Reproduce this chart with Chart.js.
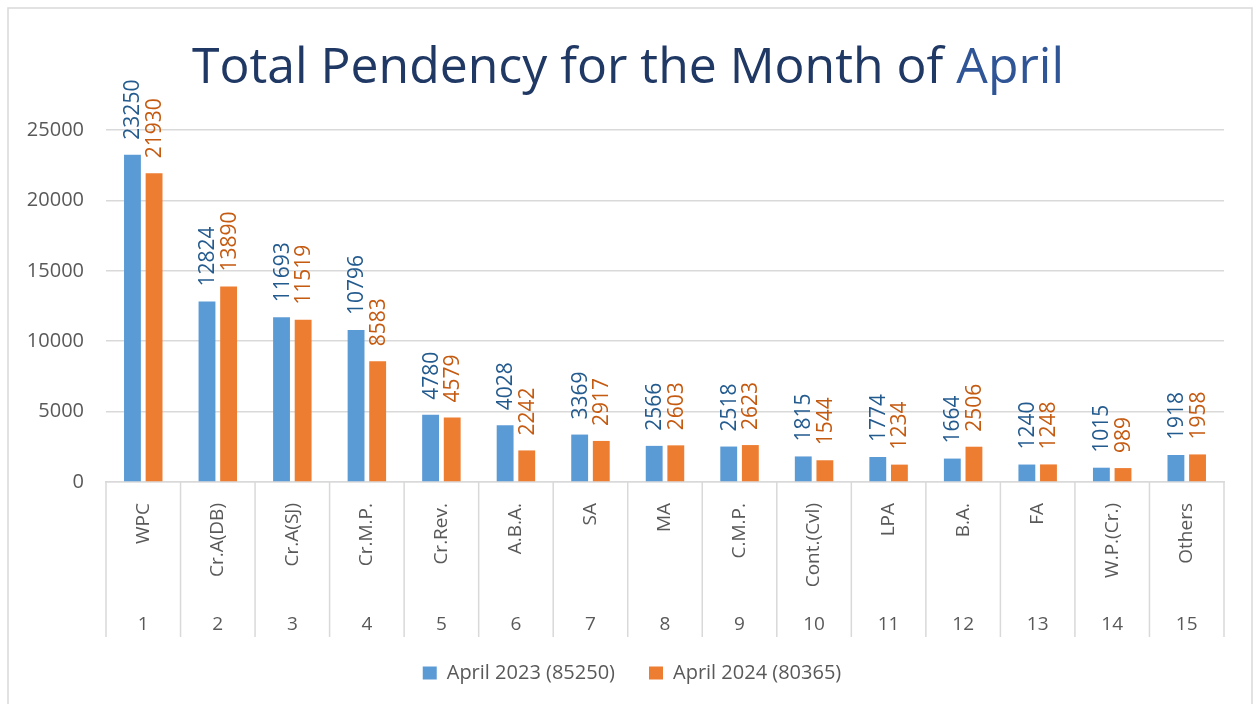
<!DOCTYPE html>
<html><head><meta charset="utf-8">
<script src="https://cdn.jsdelivr.net/npm/chart.js@4.4.1/dist/chart.umd.min.js"></script>
<style>html,body{margin:0;padding:0;background:#fff;} canvas{display:block;}</style>
</head><body>
<canvas id="c" width="1260" height="704"></canvas>
<script>
const categories = ['WPC','Cr.A(DB)','Cr.A(SJ)','Cr.M.P.','Cr.Rev.','A.B.A.','SA','MA','C.M.P.','Cont.(Cvl)','LPA','B.A.','FA','W.P.(Cr.)','Others'];
const serialNumbers = ['1','2','3','4','5','6','7','8','9','10','11','12','13','14','15'];
const april2023 = [23250,12824,11693,10796,4780,4028,3369,2566,2518,1815,1774,1664,1240,1015,1918];
const april2024 = [21930,13890,11519,8583,4579,2242,2917,2603,2623,1544,1234,2506,1248,989,1958];
const seriesNames = ['April 2023 (85250)','April 2024 (80365)'];
const yMin = 0, yMax = 25000, yStep = 5000;
const titleMain = 'Total Pendency for the Month of ';
const titleAccent = 'April';

const FONT = '"Open Sans", "DejaVu Sans", sans-serif';
const barColors = ['#5B9BD5','#ED7D31'];
const labelColors = ['#245B8F','#C55A11'];

const framePlugin = {
  id: 'frame',
  beforeDraw(chart) {
    const ctx = chart.ctx;
    ctx.save();
    ctx.fillStyle = '#fff';
    ctx.fillRect(0, 0, chart.width, chart.height);
    ctx.strokeStyle = '#d9d9d9';
    ctx.lineWidth = 1.5;
    ctx.strokeRect(8, 8, chart.width - 16, chart.height + 20);
    ctx.restore();
  }
};

const legendShiftPlugin = {
  id: 'legendShift',
  afterLayout(chart) {
    const lg = chart.legend;
    if (lg) { lg.left += 20; lg.right += 20; lg.top -= 8; lg.bottom -= 8; }
  }
};

const titlePlugin = {
  id: 'twoToneTitle',
  afterDraw(chart) {
    const ctx = chart.ctx;
    ctx.save();
    ctx.font = '50px ' + FONT;
    ctx.textBaseline = 'alphabetic';
    ctx.textAlign = 'left';
    const w1 = ctx.measureText(titleMain).width;
    const w2 = ctx.measureText(titleAccent).width;
    const target = 872;
    const s = Math.min(1, target / (w1 + w2));
    const total = (w1 + w2) * s;
    const cx = 628;
    ctx.translate(cx - total / 2, 83);
    ctx.scale(s, 1);
    ctx.fillStyle = '#203864';
    ctx.fillText(titleMain, 0, 0);
    ctx.fillStyle = '#2F5597';
    ctx.fillText(titleAccent, w1, 0);
    ctx.restore();
  }
};

const separatorPlugin = {
  id: 'separators',
  afterDraw(chart) {
    const x = chart.scales.x, x2 = chart.scales.x2;
    const ctx = chart.ctx;
    const n = categories.length;
    const half = (x.getPixelForValue(1) - x.getPixelForValue(0)) / 2;
    ctx.save();
    ctx.strokeStyle = '#d9d9d9';
    ctx.lineWidth = 1.5;
    ctx.beginPath();
    for (let i = 0; i <= n; i++) {
      const px = i < n ? x.getPixelForValue(i) - half : x.getPixelForValue(n - 1) + half;
      ctx.moveTo(px, x.top);
      ctx.lineTo(px, x2.bottom);
    }
    ctx.stroke();
    ctx.restore();
  }
};

const valueLabelPlugin = {
  id: 'valueLabels',
  afterDatasetsDraw(chart) {
    const ctx = chart.ctx;
    ctx.save();
    ctx.font = '21px ' + FONT;
    ctx.textAlign = 'left';
    ctx.textBaseline = 'middle';
    chart.data.datasets.forEach((ds, di) => {
      const meta = chart.getDatasetMeta(di);
      ctx.fillStyle = labelColors[di];
      meta.data.forEach((bar, i) => {
        ctx.save();
        ctx.translate(bar.x + 1, bar.y - 15);
        ctx.rotate(-Math.PI / 2);
        ctx.fillText(String(ds.data[i]), 0, 0);
        ctx.restore();
      });
    });
    ctx.restore();
  }
};

new Chart(document.getElementById('c'), {
  type: 'bar',
  data: {
    labels: categories,
    datasets: [
      { label: seriesNames[0], data: april2023, backgroundColor: barColors[0], borderWidth: 0, categoryPercentage: 0.58, barPercentage: 0.78 },
      { label: seriesNames[1], data: april2024, backgroundColor: barColors[1], borderWidth: 0, categoryPercentage: 0.58, barPercentage: 0.78 }
    ]
  },
  options: {
    responsive: false,
    animation: false,
    devicePixelRatio: 1,
    layout: { padding: { top: 130, right: 36, left: 0, bottom: 3 } },
    plugins: {
      title: { display: false },
      tooltip: { enabled: false },
      legend: {
        position: 'bottom',
        labels: { boxWidth: 14, boxHeight: 13, padding: 34, color: '#595959', font: { family: FONT, size: 20 } }
      }
    },
    scales: {
      y: {
        min: yMin, max: yMax,
        ticks: { stepSize: yStep, color: '#595959', font: { family: FONT, size: 20 }, padding: 22, callback: v => String(v) },
        grid: { color: '#d9d9d9', lineWidth: 1.5, drawTicks: false },
        border: { display: false },
        afterFit(s) { s.width = 106; }
      },
      x: {
        type: 'category',
        offset: true,
        grid: { display: false },
        border: { display: true, color: '#d9d9d9', width: 1.5 },
        ticks: { autoSkip: false, minRotation: 90, maxRotation: 90, color: '#595959', font: { family: FONT, size: 19 }, padding: 13 },
        afterFit(s) { s.height = 122; }
      },
      x2: {
        type: 'category',
        labels: serialNumbers,
        position: 'bottom',
        offset: true,
        grid: { display: false },
        border: { display: false },
        ticks: { autoSkip: false, maxRotation: 0, color: '#595959', font: { family: FONT, size: 19 }, padding: 1 },
        afterFit(s) { s.height = 33; }
      }
    }
  },
  plugins: [framePlugin, legendShiftPlugin, titlePlugin, separatorPlugin, valueLabelPlugin]
});
</script>
</body></html>
